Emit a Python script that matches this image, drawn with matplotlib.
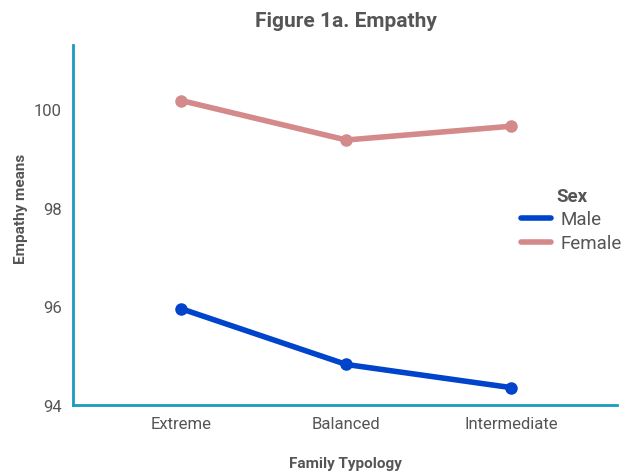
import matplotlib.pyplot as plt

# data
typology = ["Extreme", "Balanced", "Intermediate"]
male = [95.95, 94.82, 94.35]
female = [100.17, 99.37, 99.65]
y_ticks = [94, 96, 98, 100]

plt.rcParams['font.family'] = ['Roboto', 'DejaVu Sans']
text_col = '#555555'
axis_col = '#1a9bc1'

fig = plt.figure(figsize=(6.24, 4.77), dpi=100)
ax = fig.add_axes([0.117, 0.149, 0.872, 0.755])

x = list(range(len(typology)))
ax.plot(x, male, color='#0044cc', lw=4, marker='o', ms=8, label='Male',
        solid_capstyle='round')
ax.plot(x, female, color='#d48a8a', lw=4, marker='o', ms=8, label='Female',
        solid_capstyle='round')

ax.set_xlim(-0.655, 2.64)
ax.set_ylim(94, 101.3)
ax.set_xticks(x)
ax.set_xticklabels(typology)
ax.set_yticks(y_ticks)

for s in ['top', 'right']:
    ax.spines[s].set_visible(False)
for s in ['left', 'bottom']:
    ax.spines[s].set_color(axis_col)
    ax.spines[s].set_linewidth(2)
ax.tick_params(length=0, labelsize=12, labelcolor=text_col, pad=8)

ax.set_xlabel('Family Typology', fontsize=11, fontweight='bold',
              color=text_col)
ax.set_ylabel('Empathy means', fontsize=11, fontweight='bold',
              color=text_col)
ax.xaxis.set_label_coords(0.5, -0.142)
ax.yaxis.set_label_coords(-0.083, 0.547)
fig.suptitle('Figure 1a. Empathy', x=0.555, y=0.975, fontsize=15,
             fontweight='bold', color=text_col)

leg = ax.legend(title='Sex', loc='center left', bbox_to_anchor=(0.81, 0.515),
                frameon=False, fontsize=13.5, handlelength=1.6,
                handletextpad=0.5, labelspacing=0.3, borderaxespad=0)
leg.get_title().set_fontweight('bold')
leg.get_title().set_fontsize(13.5)
leg.get_title().set_color(text_col)
for t in leg.get_texts():
    t.set_color(text_col)
for h in leg.legend_handles:
    h.set_marker('')

fig.savefig('out.png', dpi=100)
